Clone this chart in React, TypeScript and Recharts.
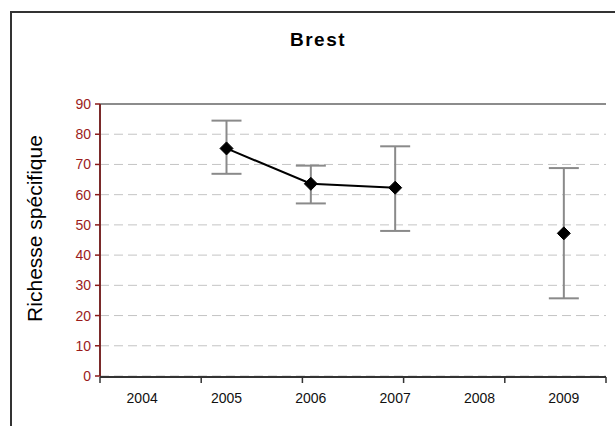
import React from 'react';
import { LineChart, Line, XAxis, YAxis, CartesianGrid, ErrorBar, ReferenceLine } from 'recharts';

const years = ['2004', '2005', '2006', '2007', '2008', '2009'];
const richness = [null, 75.3, 63.6, 62.3, null, 47.2];
const lower = [null, 66.9, 57.1, 48.0, null, 25.7];
const upper = [null, 84.5, 69.6, 76.0, null, 68.8];
const yTicks = [0, 10, 20, 30, 40, 50, 60, 70, 80, 90];

const data = years.map((year, i) => ({
  year,
  value: richness[i],
  err: richness[i] == null ? null : [richness[i]! - lower[i]!, upper[i]! - richness[i]!],
}));

const edgeTicks = years.map((_, i) => i).concat(years.length);

const font = 'Arial, "Liberation Sans", sans-serif';

const Diamond = (props: any) => {
  const { cx, cy, index } = props;
  if (cx == null || cy == null) return <g key={index} />;
  const r = 6.5;
  return (
    <path
      key={index}
      d={`M${cx},${cy - r}L${cx + r},${cy}L${cx},${cy + r}L${cx - r},${cy}Z`}
      fill="#000"
      stroke="#000"
    />
  );
};

export default function App() {
  return (
    <div style={{ position: 'absolute', left: 0, top: 0, width: 615, height: 426, overflow: 'hidden', background: '#fff' }}>
      <div
        style={{
          position: 'absolute', left: 10, top: 11, width: 640, height: 460,
          borderLeft: '2px solid #333', borderTop: '2px solid #333',
        }}
      />
      <div style={{ position: 'absolute', left: 0, top: 0 }}>
        <LineChart width={615} height={426} data={data} margin={{ top: 104, right: 9, bottom: 48, left: 40 }}>
          <CartesianGrid xAxisId="cat" vertical={false} stroke="#c4c4c4" strokeDasharray="9 5" />
          <XAxis
            xAxisId="edge"
            type="number"
            domain={[0, years.length]}
            ticks={edgeTicks}
            height={1}
            tickFormatter={() => ''}
            tickSize={6}
            axisLine={{ stroke: '#333', strokeWidth: 2 }}
            tickLine={{ stroke: '#333', strokeWidth: 1.5 }}
          />
          <XAxis
            xAxisId="cat"
            dataKey="year"
            scale="band"
            height={1}
            axisLine={false}
            tickLine={false}
            tickSize={0}
            tickMargin={17}
            tick={{ fill: '#111', fontSize: 14, fontFamily: font }}
            interval={0}
          />
          <YAxis
            domain={[0, 90]}
            ticks={yTicks}
            width={60}
            tickSize={5}
            tickMargin={4}
            axisLine={{ stroke: '#7a2a2a', strokeWidth: 2 }}
            tickLine={{ stroke: '#8b1a1a', strokeWidth: 1.5 }}
            tick={{ fill: '#9b1c1c', fontSize: 14, fontFamily: font }}
          />
          <ReferenceLine xAxisId="cat" y={90} stroke="#8c8c8c" strokeWidth={2} />
          <ReferenceLine xAxisId="edge" x={years.length} stroke="#8c8c8c" strokeWidth={2} />
          <Line
            xAxisId="cat"
            dataKey="value"
            stroke="#000"
            strokeWidth={2}
            dot={Diamond}
            activeDot={false}
            connectNulls={false}
            isAnimationActive={false}
          >
            <ErrorBar dataKey="err" direction="y" width={15} stroke="#8a8a8a" strokeWidth={2} />
          </Line>
        </LineChart>
      </div>
      <svg width={615} height={426} style={{ position: 'absolute', left: 0, top: 0, pointerEvents: 'none' }}>
        <text x={318} y={45.5} textAnchor="middle" fontFamily={font} fontWeight="bold" fontSize={19} letterSpacing={1.5} fill="#000">
          Brest
        </text>
        <text
          x={0}
          y={0}
          transform="translate(42,228.5) rotate(-90)"
          textAnchor="middle"
          fontFamily={font}
          fontSize={21}
          fill="#000"
        >
          Richesse spécifique
        </text>
      </svg>
    </div>
  );
}
